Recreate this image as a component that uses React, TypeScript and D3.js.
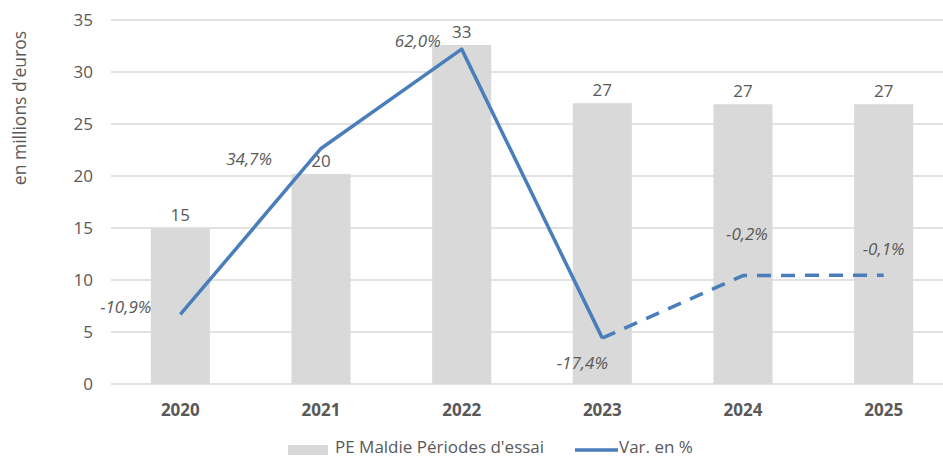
import React from "react";
import * as d3 from "d3";

const years = ["2020", "2021", "2022", "2023", "2024", "2025"];
const amounts = [15.0, 20.2, 32.6, 27.0, 26.9, 26.9];
const amountLabels = ["15", "20", "33", "27", "27", "27"];
const variations = [-10.9, 34.7, 62.0, -17.4, -0.2, -0.1];
const variationLabels = ["-10,9%", "34,7%", "62,0%", "-17,4%", "-0,2%", "-0,1%"];
const projectedFrom = 3; // index where dashed line starts
const yTicks = [0, 5, 10, 15, 20, 25, 30, 35];
const seriesNames = ["PE Maldie Périodes d'essai", "Var. en %"];
// label offsets (dx, dy, anchor) relative to point
const labelOffsets: [number, number, string][] = [
  [-29, -7, "end"],
  [-49, 11, "end"],
  [-21, -8, "end"],
  [-20, 25, "middle"],
  [4, -41, "middle"],
  [0, -26, "middle"],
];

const W = 943;
const H = 459;
const FONT = "'Open Sans', sans-serif";
const FS = 17;
const TXT = "#595959";
const BLUE = "#4a7ebb";

export default function App() {
  const x = d3.scaleBand<string>().domain(years).range([110, 954]).paddingInner(0.58).paddingOuter(0.29);
  const y = d3.scaleLinear().domain([0, 35]).range([384, 20]);
  const y2 = d3.scaleLinear().domain([-30, 70]).range([384, 20]);
  const cx = (i: number) => (x(years[i]) as number) + x.bandwidth() / 2;

  const pts: [number, number][] = variations.map((v, i) => [cx(i), y2(v)]);
  const line = d3.line();
  const solid = line(pts.slice(0, projectedFrom + 1)) as string;
  const dashed = line(pts.slice(projectedFrom)) as string;

  return (
    <svg width={W} height={H} style={{ position: "absolute", left: 0, top: 0, background: "#fff" }} fontFamily={FONT}>
      {yTicks.map((t) => (
        <g key={t}>
          <line x1={111} x2={W} y1={y(t)} y2={y(t)} stroke="#d9d9d9" strokeWidth={1.5} />
          <text x={93} y={y(t)} dy="0.35em" textAnchor="end" fontSize={FS} fill={TXT}>
            {t}
          </text>
        </g>
      ))}
      <text
        transform={`translate(20,${108}) rotate(-90)`}
        textAnchor="middle"
        dy="0.35em"
        fontSize={17.5}
        fill={TXT}
      >
        en millions d'euros
      </text>
      {years.map((yr, i) => (
        <g key={yr}>
          <rect x={x(yr)} y={y(amounts[i])} width={x.bandwidth()} height={y(0) - y(amounts[i])} fill="#d9d9d9" />
          <text x={cx(i)} y={y(amounts[i]) - 7} textAnchor="middle" fontSize={FS} fill={TXT}>
            {amountLabels[i]}
          </text>
          <text x={cx(i)} y={410} dy="0.35em" textAnchor="middle" fontSize={FS} fontWeight="bold" fill={TXT}>
            {yr}
          </text>
        </g>
      ))}
      <path d={solid} fill="none" stroke={BLUE} strokeWidth={3.5} strokeLinejoin="round" />
      <path d={dashed} fill="none" stroke={BLUE} strokeWidth={3.5} strokeDasharray="14,10" strokeLinejoin="round" />
      {pts.map((p, i) => (
        <text
          key={i}
          x={p[0] + labelOffsets[i][0]}
          y={p[1] + labelOffsets[i][1]}
          dy="0.35em"
          textAnchor={labelOffsets[i][2] as any}
          fontSize={FS}
          fontStyle="italic"
          fill={TXT}
        >
          {variationLabels[i]}
        </text>
      ))}
      <g>
        <rect x={288} y={445} width={40} height={10} fill="#d9d9d9" />
        <text x={335} y={447} dy="0.35em" fontSize={FS} fill={TXT}>
          {seriesNames[0]}
        </text>
        <line x1={575} x2={618} y1={450} y2={450} stroke={BLUE} strokeWidth={3.5} />
        <text x={619} y={447} dy="0.35em" fontSize={FS} fill={TXT}>
          {seriesNames[1]}
        </text>
      </g>
    </svg>
  );
}
